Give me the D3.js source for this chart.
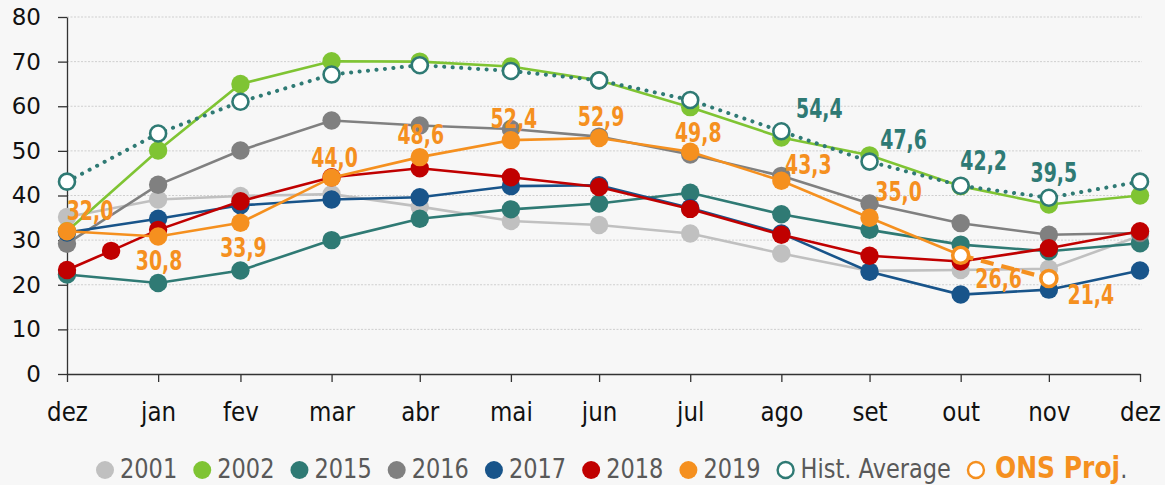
<html>
<head>
<meta charset="utf-8">
<script src="https://d3js.org/d3.v7.min.js"></script>
<style>
  body { margin: 0; background: #f7f7f7; }
  svg { display: block; }
  .axis text { font-family: "DejaVu Sans", Verdana, sans-serif; font-size: 23px; fill: #111; }
  .axis path, .axis line { stroke: #333; stroke-width: 1.3; }
</style>
</head>
<body>
<svg width="1165" height="485"></svg>

<script>
// month labels and the month-end dates they sit on
var months = ["dez", "jan", "fev", "mar", "abr", "mai", "jun", "jul", "ago", "set", "out", "nov", "dez"];
var monthEnds = ["2018-12-31", "2019-01-31", "2019-02-28", "2019-03-31", "2019-04-30", "2019-05-31",
  "2019-06-30", "2019-07-31", "2019-08-31", "2019-09-30", "2019-10-31", "2019-11-30", "2019-12-31"];
var yTicks = [0, 10, 20, 30, 40, 50, 60, 70, 80];

var v2001 = [35.2, 39.1, 39.9, 40.3, 37.5, 34.3, 33.4, 31.5, 27.0, 23.1, 23.3, 23.6, 31.0];
var v2002 = [32.0, 50.1, 65.0, 70.1, 70.0, 68.9, 65.8, 59.8, 53.0, 49.0, 42.1, 38.0, 40.0];
var v2015 = [22.3, 20.4, 23.2, 30.0, 34.8, 36.9, 38.2, 40.6, 35.8, 32.3, 29.0, 27.5, 29.3];
var v2016 = [29.2, 42.4, 50.1, 56.8, 55.7, 54.9, 53.2, 49.2, 44.4, 38.2, 33.8, 31.2, 31.6];
var v2017 = [31.7, 34.8, 37.8, 39.1, 39.6, 42.1, 42.3, 37.2, 31.5, 22.9, 17.8, 18.9, 23.2];
var v2018 = [23.3, 32.3, 38.7, 44.1, 46.1, 44.1, 41.9, 37.0, 31.2, 26.5, 25.2, 28.2, 32.0];
var extraDate2018 = "2019-01-15";
var extraValue2018 = 27.6;
var v2019 = [32.0, 30.8, 33.9, 44.0, 48.6, 52.4, 52.9, 49.8, 43.3, 35.0, 26.6, null, null];
var histAvg = [43.1, 53.9, 61.0, 67.1, 69.2, 67.9, 65.8, 61.4, 54.4, 47.6, 42.2, 39.5, 43.1];
var onsProj = [null, null, null, null, null, null, null, null, null, null, 26.6, 21.4, null];

// which points carry a value label
var labelIdx2019 = [0, 1, 2, 3, 4, 5, 6, 7, 8, 9];
var labelIdxProj = [10, 11];
var labelIdxHist = [8, 9, 10, 11];

// label offsets from their point (dx, dy to baseline)
var off2019 = [[23, -11], [1, 33], [3, 34], [3, -11], [1, -13], [3, -12], [2, -12], [8, -10], [27, -7], [29, -17]];
var offProj = [[38, 33], [42, 25]];
var offHist = [[38, -13], [34, -13], [23, -16], [5, -16]];

var parse = d3.utcParse("%Y-%m-%d");
var dates = monthEnds.map(parse);

var svg = d3.select("svg");

// background
svg.append("rect").attr("width", 1165).attr("height", 485).attr("fill", "#f7f7f7");

var x = d3.scaleUtc()
  .domain([dates[0], dates[dates.length - 1]])
  .range([67, 1140]);

var y = d3.scaleLinear()
  .domain([0, 80])
  .range([374, 17]);

// gridlines
svg.append("g")
  .selectAll("line")
  .data(yTicks.slice(1))
  .enter()
  .append("line")
  .attr("x1", x.range()[0])
  .attr("x2", x.range()[1] + 2)
  .attr("y1", function(d) { return y(d); })
  .attr("y2", function(d) { return y(d); })
  .attr("stroke", "#cfcfcf")
  .attr("stroke-width", 1)
  .attr("stroke-dasharray", "2 1.5");

// axes
svg.append("g")
  .attr("class", "axis")
  .attr("transform", "translate(67,0)")
  .call(d3.axisLeft(y).tickValues(yTicks).tickSize(9).tickSizeOuter(0).tickPadding(17));

var xAxis = svg.append("g")
  .attr("class", "axis")
  .attr("transform", "translate(0,374)")
  .call(d3.axisBottom(x).tickValues(dates).tickSize(8).tickSizeOuter(0).tickPadding(22)
    .tickFormat(function(d, i) { return months[i]; }));

// month labels are a bit taller in the original
xAxis.selectAll("text")
  .attr("y", 24.5)
  .attr("transform", "scale(1,1.15)");

function points(values) {
  var pts = [];
  values.forEach(function(v, i) {
    if (v != null) pts.push({ date: dates[i], value: v, i: i });
  });
  return pts;
}

var line = d3.line()
  .x(function(d) { return x(d.date); })
  .y(function(d) { return y(d.value); });

function drawSeries(values, color, opts) {
  opts = opts || {};
  var pts = opts.pts || points(values);
  var g = svg.append("g");
  g.append("path")
    .datum(pts)
    .attr("d", line)
    .attr("fill", "none")
    .attr("stroke", color)
    .attr("stroke-width", opts.width || 2.6)
    .attr("stroke-linecap", opts.cap || "butt")
    .attr("stroke-dasharray", opts.dash || null);
  var mk = pts.filter(function(d) { return !opts.skip || opts.skip.indexOf(d.i) < 0; });
  g.selectAll("circle")
    .data(mk)
    .enter()
    .append("circle")
    .attr("cx", function(d) { return x(d.date); })
    .attr("cy", function(d) { return y(d.value); })
    .attr("r", opts.open ? 8 : 9.2)
    .attr("fill", opts.open ? "#fff" : color)
    .attr("stroke", opts.open ? color : "none")
    .attr("stroke-width", opts.open ? (opts.ring || 2.6) : 0);
}

var colors = {
  c2001: "#c0c0c0", c2002: "#7fc433", c2015: "#2f7a74", c2016: "#808080",
  c2017: "#18548a", c2018: "#c00000", c2019: "#f5901f", hist: "#2f7a74"
};

drawSeries(v2001, colors.c2001);
drawSeries(v2002, colors.c2002);
drawSeries(v2015, colors.c2015);
drawSeries(v2016, colors.c2016);
drawSeries(v2017, colors.c2017);

var pts2018 = points(v2018);
pts2018.splice(1, 0, { date: parse(extraDate2018), value: extraValue2018, i: -1 });
drawSeries(v2018, colors.c2018, { pts: pts2018 });

drawSeries(v2019, colors.c2019, { skip: [10] });
drawSeries(histAvg, colors.hist, { open: true, width: 4, cap: "round", dash: "0.1 8.4" });
drawSeries(onsProj, colors.c2019, { open: true, width: 4.2, dash: "13 8", ring: 3.6 });

// value labels
var fmt = function(v) { return d3.format(".1f")(v).replace(".", ","); };

function drawLabels(values, idx, offs, color) {
  svg.append("g")
    .selectAll("text")
    .data(idx)
    .enter()
    .append("text")
    .attr("transform", function(d, k) {
      return "translate(" + (x(dates[d]) + offs[k][0]) + "," + (y(values[d]) + offs[k][1]) + ") scale(0.7,1)";
    })
    .attr("text-anchor", "middle")
    .style("font-family", "'DejaVu Sans', Verdana, sans-serif")
    .style("font-weight", "bold")
    .style("font-size", "27px")
    .attr("fill", color)
    .text(function(d) { return fmt(values[d]); });
}

drawLabels(v2019, labelIdx2019, off2019, colors.c2019);
drawLabels(onsProj, labelIdxProj, offProj, colors.c2019);
drawLabels(histAvg, labelIdxHist, offHist, colors.hist);

// legend
var legendItems = [
  { name: "2001", color: colors.c2001 },
  { name: "2002", color: colors.c2002 },
  { name: "2015", color: colors.c2015 },
  { name: "2016", color: colors.c2016 },
  { name: "2017", color: colors.c2017 },
  { name: "2018", color: colors.c2018 },
  { name: "2019", color: colors.c2019 },
  { name: "Hist. Average", color: colors.hist, open: true },
  { name: "ONS Proj", color: colors.c2019, open: true, bold: true }
];

var legend = svg.append("g").attr("transform", "translate(0,470)");
var cursor = 96;
legendItems.forEach(function(it) {
  legend.append("circle")
    .attr("cx", cursor + 9)
    .attr("cy", 0)
    .attr("r", it.open ? 8 : 9)
    .attr("fill", it.open ? "#fff" : it.color)
    .attr("stroke", it.open ? it.color : "none")
    .attr("stroke-width", 2.4);
  var tx = cursor + (it.bold ? 28 : 24);
  var t = legend.append("text")
    .attr("transform", "translate(" + tx + ",8) scale(1,1.18)")
    .style("font-family", "'DejaVu Sans', Verdana, sans-serif")
    .style("font-size", "22.5px")
    .attr("fill", "#595959");
  if (it.bold) {
    t.append("tspan").style("font-weight", "bold").style("font-size", "25px").attr("fill", it.color).text(it.name);
    t.append("tspan").text(".");
  } else {
    t.text(it.name);
  }
  cursor = tx + t.node().getComputedTextLength() + 16;
});
</script>
</body>
</html>
